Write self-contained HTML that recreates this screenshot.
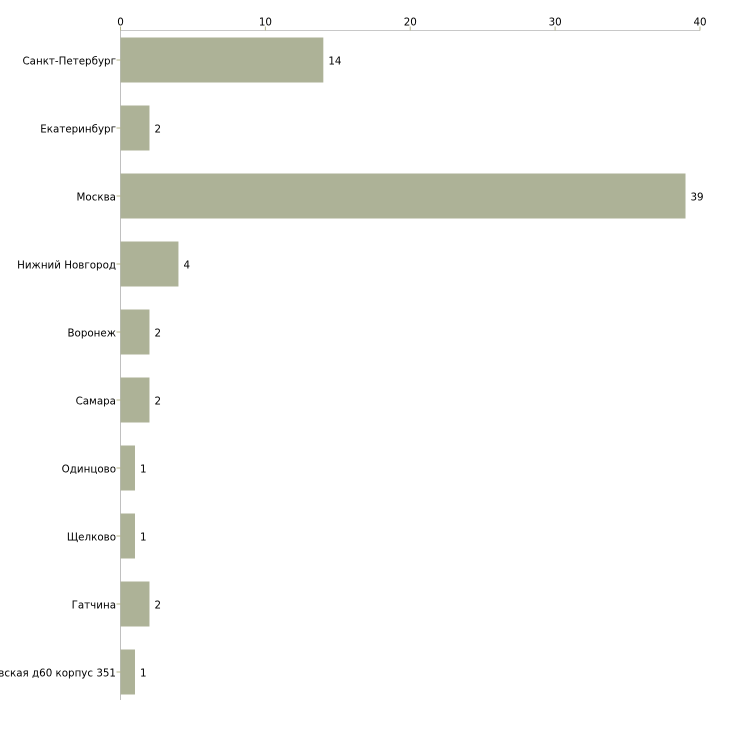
<!DOCTYPE html>
<html><head><meta charset="utf-8"><style>
body{margin:0;background:#fff;width:730px;height:730px;overflow:hidden}
svg text{font-family:"DejaVu Sans","Liberation Sans",sans-serif;font-size:10.3px;fill:#000}
</style></head><body>
<svg id="chart" width="730" height="730" xmlns="http://www.w3.org/2000/svg"></svg>
<script>
const categories=["Санкт-Петербург","Екатеринбург","Москва","Нижний Новгород","Воронеж","Самара","Одинцово","Щелково","Гатчина","Пулковская д60 корпус 351"];
const values=[14,2,39,4,2,2,1,1,2,1];
const ticks=[0,10,20,30,40];
const svg=document.getElementById('chart');
const NS='http://www.w3.org/2000/svg';
const x0=120.5,x1=700,xmax=40,yTop=30.5,pitch=68,barTop=37.5,barH=45;
const xs=v=>x0+(v/xmax)*(x1-x0);
function mk(t,a){const e=document.createElementNS(NS,t);for(const k in a)e.setAttribute(k,a[k]);svg.appendChild(e);return e;}
let l=mk('line',{x1:x0,y1:yTop,x2:x1,y2:yTop,stroke:'#c8c8c8'});


l=mk('line',{x1:x0,y1:yTop,x2:x0,y2:700,stroke:'#c0c0c0'});


ticks.forEach(t=>{
 const x=xs(t);
 let tk=mk('line',{x1:x,y1:yTop-4,x2:x,y2:yTop,stroke:'#b5b58a'});
 
 
 let tx=mk('text',{x:x,y:yTop-5,'text-anchor':'middle'});tx.textContent=t;
 
 
});
categories.forEach((c,i)=>{
 const y=barTop+i*pitch, cy=y+barH/2;
 let r=mk('rect',{x:x0,y:y,width:xs(values[i])-x0,height:barH,fill:'#adb297'});
 
 
 let tk=mk('line',{x1:x0-4,y1:cy,x2:x0,y2:cy,stroke:'#b5b58a'});
 
 
 let lb=mk('text',{x:116,y:cy+4.5,'text-anchor':'end'});lb.textContent=c;
 
 
 let vl=mk('text',{x:xs(values[i])+5,y:cy+4.5});vl.textContent=values[i];
 
 
});
</script>
</body></html>
